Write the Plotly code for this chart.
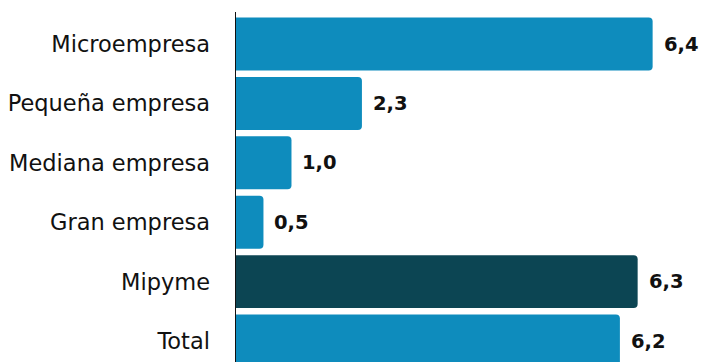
import plotly.graph_objects as go

categories = ["Microempresa", "Pequeña empresa", "Mediana empresa", "Gran empresa", "Mipyme", "Total"]
value_labels = ["6,4", "2,3", "1,0", "0,5", "6,3", "6,2"]
# bar lengths as drawn in the picture (the original chart's bars)
bar_lengths = [7.51, 2.27, 1.0, 0.495, 7.24, 6.92]
bar_colors = ["#0E8CBD", "#0E8CBD", "#0E8CBD", "#0E8CBD", "#0C4553", "#0E8CBD"]

fig = go.Figure(go.Bar(
    y=categories,
    x=bar_lengths,
    orientation="h",
    marker=dict(color=bar_colors, line=dict(width=0), cornerradius=4),
    hoverinfo="skip",
))

for cat, v, lab in zip(categories, bar_lengths, value_labels):
    fig.add_annotation(
        x=v, y=cat, text=lab, showarrow=False,
        xanchor="left", xshift=9, yanchor="middle",
        font=dict(family="DejaVu Sans", size=19.5, color="#111111", weight="bold"),
    )

fig.update_layout(
    width=702, height=362,
    margin=dict(l=236, r=0, t=12, b=0, autoexpand=False),
    paper_bgcolor="white", plot_bgcolor="white",
    bargap=0.108,
    showlegend=False,
    font=dict(family="DejaVu Sans", size=22.5, color="#111111"),
)
fig.update_xaxes(range=[0, 8.4], visible=False, showgrid=False, zeroline=False, automargin=False)
fig.update_yaxes(
    range=[5.353, -0.539], automargin=False,
    showgrid=False, zeroline=False,
    showline=True, linecolor="#111111", linewidth=1.5,
    ticks="outside", ticklen=20, tickcolor="rgba(0,0,0,0)",
    tickfont=dict(family="DejaVu Sans", size=22.5, color="#111111"),
)

fig.write_html(
    "out.html",
    config={"displayModeBar": False, "staticPlot": True},
    post_script="document.body.style.margin='0';document.body.style.overflow='hidden';",
)
